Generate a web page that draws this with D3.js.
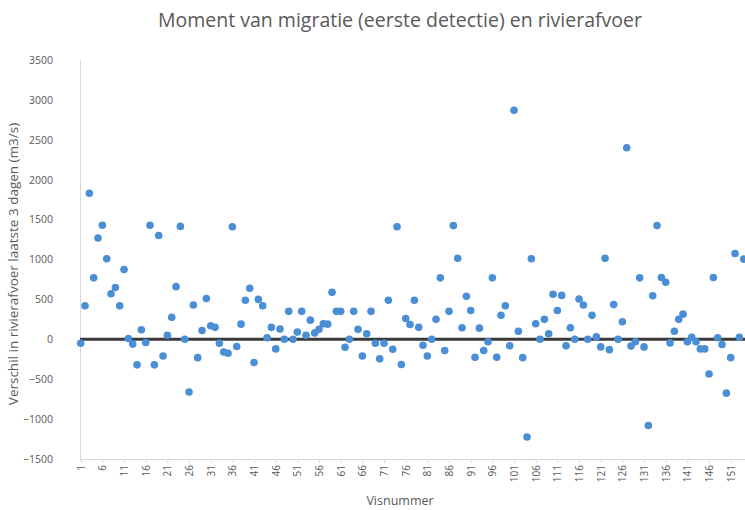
<!DOCTYPE html>
<html>
<head>
<meta charset="utf-8">
<script src="https://cdn.jsdelivr.net/npm/d3@7"></script>
<style>
  body { margin: 0; background: #fff; }
  text { font-family: "Open Sans", sans-serif; fill: #595959; }
</style>
</head>
<body>
<script>
// verschil in rivierafvoer per vis (visnummer 1..154)

var afvoer = [
  -50, 420, 1830, 770, 1270, 1430, 1010, 570, 650, 420,
  875, 10, -60, -320, 120, -40, 1430, -320, 1300, -210,
  50, 275, 660, 1415, 0, -660, 430, -230, 110, 510,
  170, 150, -50, -160, -175, 1410, -90, 190, 490, 640,
  -290, 500, 420, 20, 150, -120, 130, 0, 350, 0,
  90, 350, 50, 240, 80, 125, 195, 190, 590, 350,
  350, -100, 0, 350, 125, -210, 70, 350, -50, -245,
  -50, 490, -125, 1410, -315, 260, 185, 490, 150, -75,
  -210, 0, 250, 770, -140, 350, 1425, 1015, 145, 540,
  360, -225, 140, -140, -30, 770, -225, 300, 420, -80,
  2870, 100, -230, -1225, 1010, 195, 0, 250, 70, 565,
  360, 550, -80, 145, 0, 505, 430, 0, 300, 30,
  -95, 1015, -130, 435, 0, 220, 2400, -85, -30, 770,
  -95, -1080, 545, 1425, 775, 715, -45, 100, 250, 315,
  -30, 25, -30, -120, -120, -435, 775, 20, -65, -675,
  -230, 1075, 25, 1005
];

var xTicks = [1, 6, 11, 16, 21, 26, 31, 36, 41, 46, 51, 56, 61, 66, 71, 76,
  81, 86, 91, 96, 101, 106, 111, 116, 121, 126, 131, 136, 141, 146, 151];

var yTicks = [-1500, -1000, -500, 0, 500, 1000, 1500, 2000, 2500, 3000, 3500];

var width = 745;
var height = 510;

var svg = d3.select("body")
  .append("svg")
  .attr("width", width)
  .attr("height", height);

svg.append("rect")
  .attr("width", width)
  .attr("height", height)
  .attr("fill", "#fff");

var x = d3.scaleLinear()
  .domain([1, 154])
  .range([80.7, 743.7]);

var y = d3.scaleLinear()
  .domain([-1500, 3500])
  .range([459, 60]);

// titel
svg.append("text")
  .attr("x", 400)
  .attr("y", 27)
  .attr("text-anchor", "middle")
  .style("font-size", "19.5px")
  .text("Moment van migratie (eerste detectie) en rivierafvoer");

// y-as
var yAxis = svg.append("g")
  .attr("transform", "translate(80,0)")
  .call(d3.axisLeft(y).tickValues(yTicks).tickFormat(d3.format("d")).tickSize(0).tickPadding(27));

yAxis.select(".domain").attr("stroke", "#d9d9d9");
yAxis.selectAll("text")
  .style("font-size", "10.5px")
  .style("font-family", "'Open Sans', sans-serif")
  .attr("fill", "#595959");

// x-as
var xAxis = svg.append("g")
  .attr("transform", "translate(0," + y(-1500) + ")")
  .call(d3.axisBottom(x).tickValues(xTicks).tickSize(4).tickSizeOuter(0));

xAxis.select(".domain").attr("stroke", "#d9d9d9").attr("d", "M80,0.5H745");
xAxis.selectAll("line").attr("stroke", "#d9d9d9");
xAxis.selectAll("text")
  .style("font-size", "10px")
  .style("font-family", "'Open Sans', sans-serif")
  .attr("fill", "#595959")
  .attr("transform", "rotate(-90)")
  .attr("text-anchor", "end")
  .attr("x", -6)
  .attr("y", 0)
  .attr("dy", "0.35em");

// nullijn
svg.append("line")
  .attr("x1", 80)
  .attr("x2", 745)
  .attr("y1", y(0))
  .attr("y2", y(0))
  .attr("stroke", "#3a3a3a")
  .attr("stroke-width", 3);

// punten
svg.append("g")
  .selectAll("circle")
  .data(afvoer)
  .enter()
  .append("circle")
  .attr("cx", function(d, i) { return x(i + 1); })
  .attr("cy", function(d) { return y(d); })
  .attr("r", 3.8)
  .attr("fill", "#4a8fd6");

// astitels
svg.append("text")
  .attr("transform", "translate(18,264) rotate(-90)")
  .attr("text-anchor", "middle")
  .style("font-size", "13.5px")
  .text("Verschil in rivierafvoer laatste 3 dagen (m3/s)");

svg.append("text")
  .attr("x", 400)
  .attr("y", 505)
  .attr("text-anchor", "middle")
  .style("font-size", "12.5px")
  .text("Visnummer");
</script>
</body>
</html>
